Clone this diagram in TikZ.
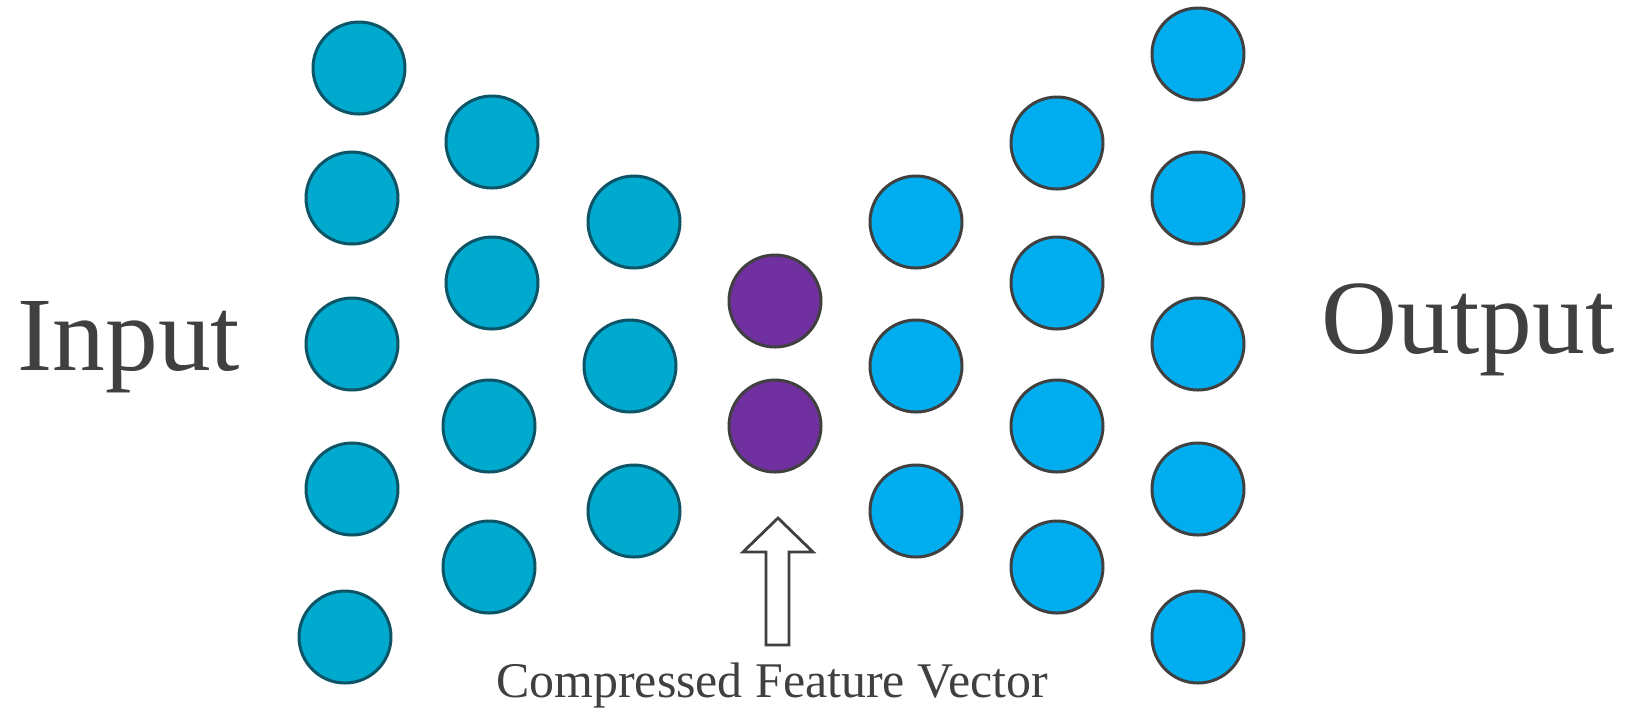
\documentclass[tikz,border=0pt]{standalone}
\usepackage{fontspec}
\setmainfont{Liberation Serif}
\usepackage{tikz}
\usetikzlibrary{positioning}
\definecolor{enctealfill}{HTML}{00A9CE}
\definecolor{enctealdraw}{HTML}{0D5466}
\definecolor{decbluefill}{HTML}{00AEEF}
\definecolor{codepurple}{HTML}{7030A0}
\definecolor{darkline}{HTML}{404040}
\tikzset{
  encunit/.style={
    circle,
    draw=enctealdraw,
    fill=enctealfill,
    line width=0.85pt,
    minimum size=9.2mm,
    inner sep=0pt
  },
  codeunit/.style={
    circle,
    draw=darkline,
    fill=codepurple,
    line width=0.85pt,
    minimum size=9.2mm,
    inner sep=0pt
  },
  decunit/.style={
    circle,
    draw=darkline,
    fill=decbluefill,
    line width=0.85pt,
    minimum size=9.2mm,
    inner sep=0pt
  },
  biglabel/.style={
    text=darkline,
    font=\fontsize{30pt}{33pt}\selectfont,
    inner sep=0pt
  },
  caption/.style={
    text=darkline,
    font=\fontsize{14.2pt}{16pt}\selectfont,
    inner sep=0pt
  },
  hollowarrow/.style={
    draw=darkline,
    fill=white,
    line width=0.8pt,
    line join=miter
  }
}

\begin{document}
\begin{tikzpicture}[x=0.1mm, y=-0.1mm]
    \useasboundingbox[fill=white] (0,0) rectangle (1626,711);
    % encoder
    \node[encunit] (e11) at (359,68) {};
    \node[encunit] (e12) at (352,198) {};
    \node[encunit] (e13) at (352,344) {};
    \node[encunit] (e14) at (352,489) {};
    \node[encunit] (e15) at (345,637) {};
    \node[encunit] (e21) at (492,142) {};
    \node[encunit] (e22) at (492,283) {};
    \node[encunit] (e23) at (489,426) {};
    \node[encunit] (e24) at (489,567) {};
    \node[encunit] (e31) at (634,222) {};
    \node[encunit] (e32) at (630,366) {};
    \node[encunit] (e33) at (634,511) {};
    % bottleneck
    \node[codeunit] (c1) at (775,301) {};
    \node[codeunit] (c2) at (775,426) {};
    % decoder
    \node[decunit] (d31) at (916,222) {};
    \node[decunit] (d32) at (916,366) {};
    \node[decunit] (d33) at (916,511) {};
    \node[decunit] (d21) at (1057,143) {};
    \node[decunit] (d22) at (1057,283) {};
    \node[decunit] (d23) at (1057,426) {};
    \node[decunit] (d24) at (1057,567) {};
    \node[decunit] (d11) at (1198,54) {};
    \node[decunit] (d12) at (1198,198) {};
    \node[decunit] (d13) at (1198,344) {};
    \node[decunit] (d14) at (1198,489) {};
    \node[decunit] (d15) at (1198,637) {};
    % labels
    \node[biglabel, anchor=base west] (inlabel) at (17,370) {Input};
    \node[biglabel, anchor=base west] (outlabel) at (1321,353) {Output};
    \node[caption, anchor=base] (veclabel) at (772,697) {Compressed Feature Vector};
    \draw[hollowarrow] (766,645) -- (766,552) -- (743,552) -- (778,518)
      -- (813,552) -- (789,552) -- (789,645) -- cycle;
\end{tikzpicture}
\end{document}
